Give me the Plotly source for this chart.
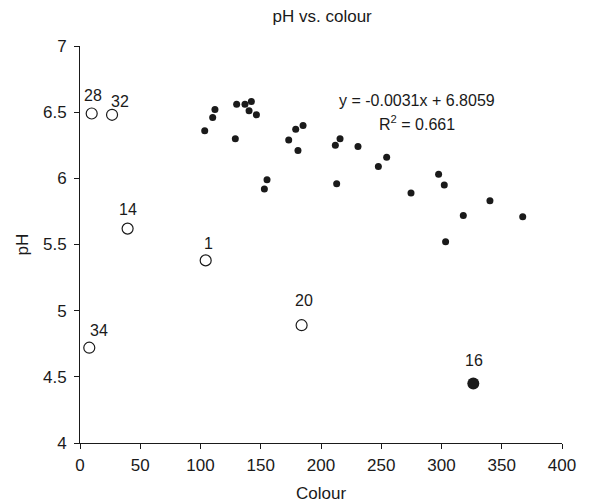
import plotly.graph_objects as go

# Main sample points (filled small dots)
colour_main = [103.5, 110.1, 112.0, 130.0, 128.9, 136.9, 142.2, 140.3, 146.4,
               173.2, 179.0, 185.1, 180.9, 155.2, 153.0, 211.9, 215.8, 230.7,
               213.0, 247.6, 254.5, 274.7, 297.6, 302.3, 303.4, 318.1, 340.2, 367.4]
ph_main = [6.36, 6.46, 6.52, 6.56, 6.30, 6.56, 6.58, 6.51, 6.48,
           6.29, 6.37, 6.40, 6.21, 5.99, 5.92, 6.25, 6.30, 6.24,
           5.96, 6.09, 6.16, 5.89, 6.03, 5.95, 5.52, 5.72, 5.83, 5.71]

# Outliers (open circles), labelled
out_labels = ["28", "32", "14", "1", "20", "34"]
out_colour = [9.7, 26.6, 39.5, 104.3, 183.9, 7.7]
out_ph = [6.49, 6.48, 5.62, 5.38, 4.89, 4.72]

# Highlighted point (large filled)
big_label = ["16"]
big_colour = [326.4]
big_ph = [4.45]

equation = "y = -0.0031x + 6.8059"
r2_text = "R<sup>2</sup> = 0.661"

FONT = "Liberation Sans, Arial, Helvetica, sans-serif"
INK = "#1a1a1a"

fig = go.Figure()
fig.add_trace(go.Scatter(x=colour_main, y=ph_main, mode="markers",
                         marker=dict(size=7, color=INK), showlegend=False))
fig.add_trace(go.Scatter(x=out_colour, y=out_ph, mode="markers",
                         marker=dict(size=11, color="white", line=dict(color=INK, width=1.2)),
                         showlegend=False))
fig.add_trace(go.Scatter(x=big_colour, y=big_ph, mode="markers",
                         marker=dict(size=12, color=INK), showlegend=False))

# label offsets in pixels (dx, dy up)
offsets = {"28": (1, 18), "32": (8, 13), "14": (0, 19), "1": (3, 17),
           "20": (2, 25), "34": (10, 17), "16": (1, 23)}
for lab, xv, yv in zip(out_labels + big_label, out_colour + big_colour, out_ph + big_ph):
    dx, dy = offsets[lab]
    fig.add_annotation(x=xv, y=yv, text=lab, showarrow=False, xshift=dx, yshift=dy,
                       font=dict(family=FONT, size=16, color=INK))

fig.add_annotation(x=280, y=6.585, text=equation, showarrow=False,
                   font=dict(family=FONT, size=16, color=INK))
fig.add_annotation(x=280, y=6.415, text=r2_text, showarrow=False,
                   font=dict(family=FONT, size=16, color=INK))

# axis titles
fig.add_annotation(xref="paper", yref="paper", x=0.5, y=0, yshift=-50,
                   xanchor="center", yanchor="middle", text="Colour", showarrow=False,
                   font=dict(family=FONT, size=17, color=INK))
fig.add_annotation(xref="paper", yref="paper", x=0, y=0.5, xshift=-58,
                   xanchor="center", yanchor="middle",
                   text="pH", textangle=-90, showarrow=False,
                   font=dict(family=FONT, size=17, color=INK))

fig.update_layout(
    width=589, height=502,
    margin=dict(l=80, r=27, t=46, b=59),
    paper_bgcolor="white", plot_bgcolor="white",
    title=dict(text="pH vs. colour", x=0.547, xanchor="center",
               yref="container", y=1 - 16 / 502, yanchor="middle",
               font=dict(family=FONT, size=17, color=INK)),
    font=dict(family=FONT, size=17, color=INK),
)
fig.update_xaxes(range=[0, 400], dtick=50, showline=True, linecolor=INK, linewidth=1,
                 ticks="outside", ticklen=5, tickcolor=INK, showgrid=False, zeroline=False,
                 ticklabelstandoff=2,
                 tickfont=dict(family=FONT, size=17, color=INK))
fig.update_yaxes(range=[4, 7], dtick=0.5, showline=True, linecolor=INK, linewidth=1,
                 ticks="outside", ticklen=5, tickcolor=INK, showgrid=False, zeroline=False,
                 ticklabelstandoff=4,
                 tickfont=dict(family=FONT, size=17, color=INK),
                 tickformat="~g")

fig.write_html("out.html", config={"displayModeBar": False},
               post_script="document.body.style.margin='0';document.body.style.overflow='hidden';")
